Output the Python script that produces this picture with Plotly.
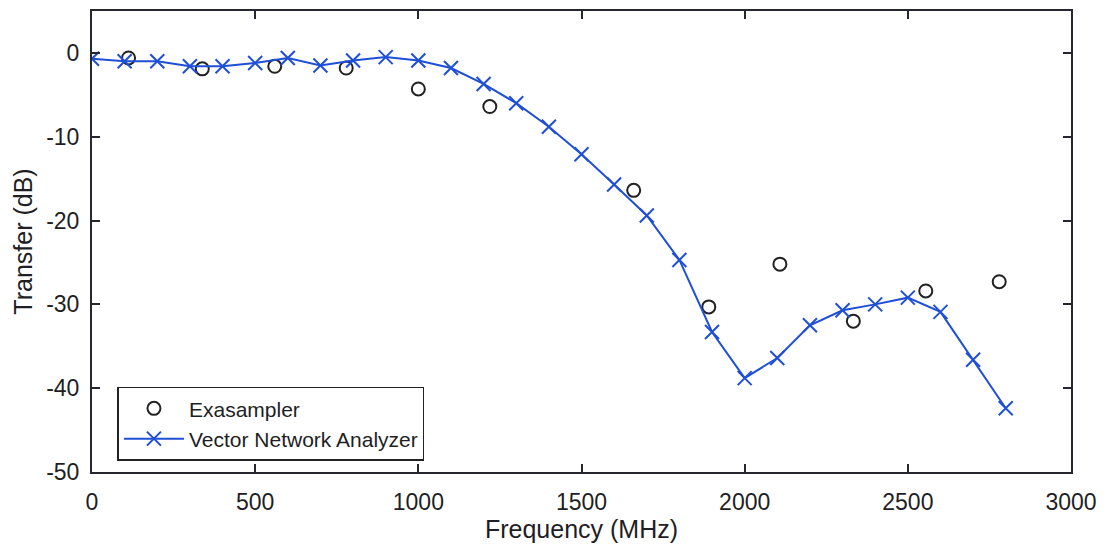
import plotly.graph_objects as go

# Vector network analyzer sweep (MHz, dB)
vna_freq = [0, 100, 200, 300, 400, 500, 600, 700, 800, 900, 1000, 1100, 1200, 1300,
            1400, 1500, 1600, 1700, 1800, 1900, 2000, 2100, 2200, 2300, 2400, 2500,
            2600, 2700, 2800]
vna_db = [-0.7, -1.0, -1.0, -1.6, -1.6, -1.2, -0.6, -1.5, -0.9, -0.5, -0.9, -1.8,
          -3.7, -6.0, -8.8, -12.1, -15.7, -19.4, -24.7, -33.3, -38.8, -36.4, -32.5,
          -30.7, -30.0, -29.2, -30.9, -36.6, -42.4]

# Exasampler measurements (MHz, dB)
exa_freq = [112, 338, 560, 779, 1000, 1219, 1660, 1890, 2108, 2333, 2555, 2780]
exa_db = [-0.6, -1.9, -1.6, -1.8, -4.3, -6.4, -16.4, -30.3, -25.2, -32.0, -28.4, -27.3]

x_ticks = [0, 500, 1000, 1500, 2000, 2500, 3000]
y_ticks = [0, -10, -20, -30, -40, -50]

font_family = "Liberation Sans, Arial, sans-serif"
text_color = "#1e1e24"
axis_color = "#262630"
blue = "#1f4fd6"

fig = go.Figure()
fig.add_trace(go.Scatter(
    x=exa_freq, y=exa_db, mode="markers", name="Exasampler",
    marker=dict(symbol="circle-open", size=13, color="#222222",
                line=dict(width=2, color="#222222")),
))
fig.add_trace(go.Scatter(
    x=vna_freq, y=vna_db, mode="lines+markers", name="Vector Network Analyzer",
    line=dict(color=blue, width=2),
    marker=dict(symbol="x-thin", size=14, color=blue,
                line=dict(width=2, color=blue)),
))

axis_common = dict(
    showgrid=False, zeroline=False, showline=True, linecolor=axis_color,
    linewidth=2, mirror="ticks", ticks="inside", ticklen=8, tickwidth=2,
    tickcolor=axis_color, tickfont=dict(size=23, color=text_color, family=font_family),
)

fig.update_xaxes(
    range=[0, 3000], tickvals=x_ticks, ticktext=[str(v) for v in x_ticks],
    ticklabelstandoff=8,
    title=dict(text="Frequency (MHz)", font=dict(size=25, color=text_color, family=font_family),
               standoff=4),
    **axis_common,
)
fig.update_yaxes(
    range=[-50, 5], tickvals=y_ticks, ticktext=[str(v) for v in y_ticks],
    ticklabelstandoff=6,
    title=dict(text="Transfer (dB)", font=dict(size=25, color=text_color, family=font_family),
               standoff=6),
    **axis_common,
)

fig.update_layout(
    width=1106, height=552,
    margin=dict(l=92, r=33, t=9, b=80),
    paper_bgcolor="white", plot_bgcolor="white",
    showlegend=True,
    legend=dict(
        x=0.026, y=0.185, xanchor="left", yanchor="top",
        bgcolor="white", bordercolor="#222222", borderwidth=1.5,
        font=dict(size=21, color=text_color, family=font_family),
        tracegroupgap=0, itemwidth=60,
    ),
)

fig.write_html("out.html")
